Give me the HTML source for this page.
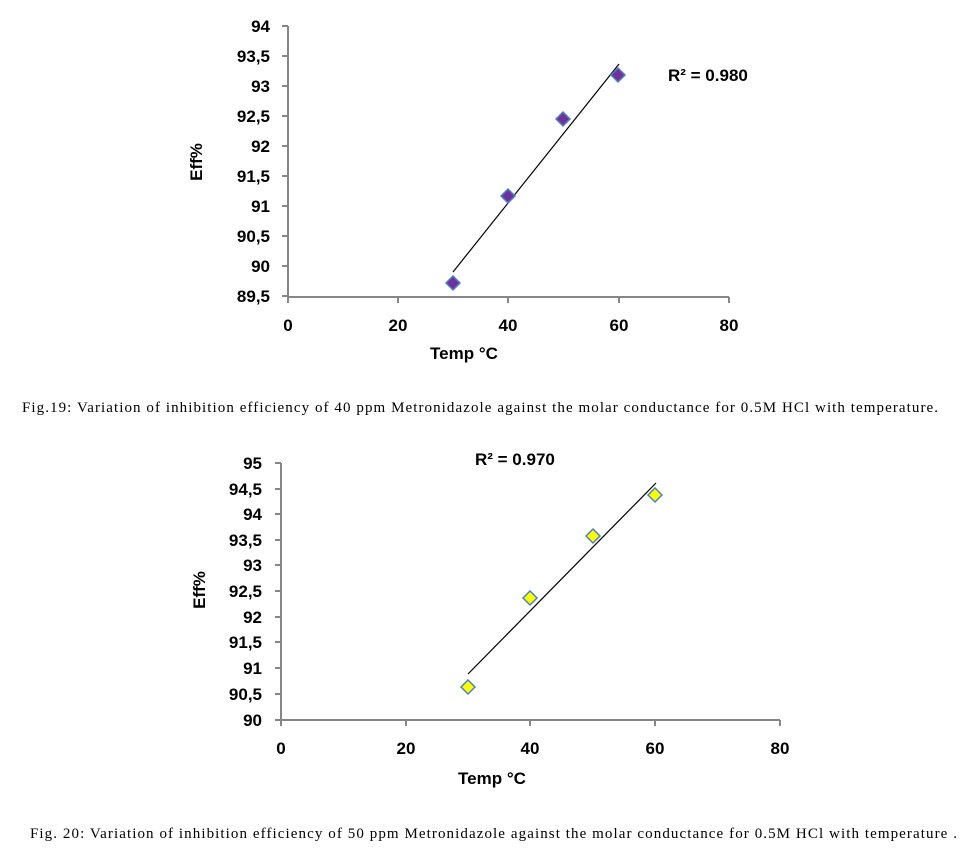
<!DOCTYPE html>
<html><head><meta charset="utf-8"><style>
body{margin:0;background:#fff;width:976px;height:853px;overflow:hidden}
svg{display:block}
.t{font-family:"Liberation Sans",sans-serif;font-weight:bold;font-size:17px;fill:#000}
.c{font-family:"Liberation Serif",serif;font-size:15px;fill:#000}
</style></head><body>
<svg width="976" height="853" viewBox="0 0 976 853">
<g stroke="#868686" stroke-width="2" fill="none">
<line x1="288" y1="26" x2="288" y2="297"/>
<line x1="288" y1="297" x2="729" y2="297"/>
<line x1="282" y1="26" x2="288" y2="26"/><line x1="282" y1="56" x2="288" y2="56"/><line x1="282" y1="86" x2="288" y2="86"/><line x1="282" y1="116" x2="288" y2="116"/><line x1="282" y1="146" x2="288" y2="146"/><line x1="282" y1="176" x2="288" y2="176"/><line x1="282" y1="206" x2="288" y2="206"/><line x1="282" y1="236" x2="288" y2="236"/><line x1="282" y1="266" x2="288" y2="266"/><line x1="282" y1="296" x2="288" y2="296"/>
<line x1="398" y1="297" x2="398" y2="303"/><line x1="508" y1="297" x2="508" y2="303"/><line x1="619" y1="297" x2="619" y2="303"/><line x1="729" y1="297" x2="729" y2="303"/><line x1="288" y1="297" x2="288" y2="303"/>
<line x1="281" y1="463" x2="281" y2="720"/>
<line x1="281" y1="720" x2="780" y2="720"/>
<line x1="275" y1="463" x2="281" y2="463"/><line x1="275" y1="489" x2="281" y2="489"/><line x1="275" y1="514" x2="281" y2="514"/><line x1="275" y1="540" x2="281" y2="540"/><line x1="275" y1="565" x2="281" y2="565"/><line x1="275" y1="591" x2="281" y2="591"/><line x1="275" y1="617" x2="281" y2="617"/><line x1="275" y1="642" x2="281" y2="642"/><line x1="275" y1="668" x2="281" y2="668"/><line x1="275" y1="694" x2="281" y2="694"/><line x1="275" y1="720" x2="281" y2="720"/>
<line x1="406" y1="720" x2="406" y2="726"/><line x1="530" y1="720" x2="530" y2="726"/><line x1="655" y1="720" x2="655" y2="726"/><line x1="780" y1="720" x2="780" y2="726"/><line x1="281" y1="720" x2="281" y2="726"/>
</g>
<g class="t" text-anchor="end">
<text x="270" y="32">94</text><text x="270" y="62">93,5</text><text x="270" y="92">93</text><text x="270" y="122">92,5</text><text x="270" y="152">92</text><text x="270" y="182">91,5</text><text x="270" y="212">91</text><text x="270" y="242">90,5</text><text x="270" y="272">90</text><text x="270" y="302">89,5</text>
<text x="262" y="469">95</text><text x="262" y="495">94,5</text><text x="262" y="520">94</text><text x="262" y="546">93,5</text><text x="262" y="571">93</text><text x="262" y="597">92,5</text><text x="262" y="623">92</text><text x="262" y="648">91,5</text><text x="262" y="674">91</text><text x="262" y="700">90,5</text><text x="262" y="726">90</text>
</g>
<g class="t" text-anchor="middle">
<text x="288" y="331">0</text><text x="398" y="331">20</text><text x="508" y="331">40</text><text x="619" y="331">60</text><text x="729" y="331">80</text>
<text x="464" y="359">Temp °C</text>
<text transform="translate(202,162) rotate(-90)">Eff%</text>
<text x="281" y="754">0</text><text x="406" y="754">20</text><text x="530" y="754">40</text><text x="655" y="754">60</text><text x="780" y="754">80</text>
<text x="492" y="784">Temp °C</text>
<text transform="translate(205,590) rotate(-90)">Eff%</text>
</g>
<text class="t" x="668" y="81">R² = 0.980</text>
<text class="t" x="475" y="465">R² = 0.970</text>
<line x1="453" y1="272" x2="619" y2="64" stroke="#000" stroke-width="1.2"/>
<line x1="468" y1="674" x2="656" y2="483" stroke="#000" stroke-width="1.2"/>
<g fill="#7030a0" stroke="#4f81bd" stroke-width="1.5">
<path d="M453 276 l7 7 -7 7 -7 -7z"/><path d="M508 189 l7 7 -7 7 -7 -7z"/><path d="M563 112 l7 7 -7 7 -7 -7z"/><path d="M618 68 l7 7 -7 7 -7 -7z"/>
</g>
<g fill="#ffff00" stroke="#4f81bd" stroke-width="1.5">
<path d="M468 680 l7 7 -7 7 -7 -7z"/><path d="M530 591 l7 7 -7 7 -7 -7z"/><path d="M593 529 l7 7 -7 7 -7 -7z"/><path d="M655 488 l7 7 -7 7 -7 -7z"/>
</g>
<text class="c" x="22" y="412" textLength="916" lengthAdjust="spacing">Fig.19: Variation of inhibition efficiency of 40 ppm Metronidazole against the molar conductance for 0.5M HCl  with temperature.</text>
<text class="c" x="30" y="838" textLength="927" lengthAdjust="spacing">Fig. 20: Variation of inhibition efficiency of 50 ppm Metronidazole against the molar conductance for 0.5M HCl  with temperature  .</text>
</svg>
</body></html>
